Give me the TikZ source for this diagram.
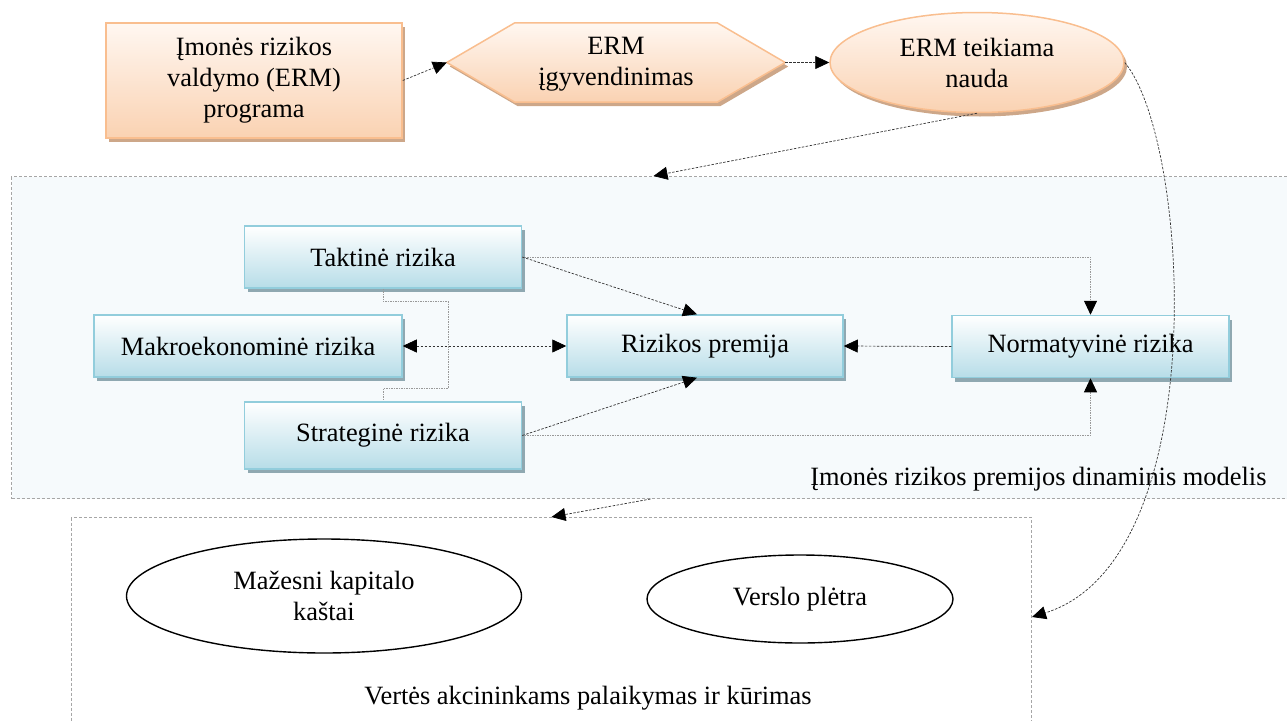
\documentclass[tikz,border=0pt]{standalone}
\usepackage{fontspec}
\setmainfont{Liberation Serif}
\usetikzlibrary{arrows.meta,shapes.geometric,shadows}
\begin{document}
\begin{tikzpicture}[x=1pt,y=-1pt,font=\fontsize{26.4}{31}\selectfont,
    ermbox/.style={draw=cl1,line width=1.5pt,top color=cl0,bottom color=cl2,
        drop shadow={shadow xshift=3pt,shadow yshift=-4pt,fill=cl3,opacity=1}},
    riskbox/.style={draw=cl4,line width=1.5pt,top color=white,bottom color=cl5,
        drop shadow={shadow xshift=3pt,shadow yshift=-4pt,fill=cl6,opacity=1},
        minimum height=62,inner sep=0},
    panelbox/.style={draw=gray!70,line width=1pt,dash pattern=on 3pt off 2pt,anchor=north west},
    tip/.style={-{Triangle[length=14pt,width=13pt,color=black]}},
    arrowlink/.style={black!80,line width=0.7pt,dash pattern=on 2.5pt off 1.5pt,tip},
    greylink/.style={gray!80,line width=0.7pt,dash pattern=on 1.5pt off 1pt},
    valueoval/.style={draw,ellipse,line width=1.4pt,align=center,inner sep=0}]
    \definecolor{cl0}{HTML}{FFF7F1}
    \definecolor{cl1}{HTML}{F9BE8F}
    \definecolor{cl2}{HTML}{FAD2B2}
    \definecolor{cl3}{HTML}{CDA789}
    \definecolor{cl4}{HTML}{92CDDC}
    \definecolor{cl5}{HTML}{B7DDE8}
    \definecolor{cl6}{HTML}{8FA8B1}
    \definecolor{cl7}{HTML}{F6FAFC}
    \useasboundingbox (0,0) rectangle (1287,720);
    \node[panelbox,fill=cl7,minimum width=1284,minimum height=322] (model) at (11,176) {};
    \node[panelbox,minimum width=960,minimum height=260] (value) at (71,517) {};
    \node[anchor=base east] (modeltitle) at (1270,485) {Įmonės rizikos premijos dinaminis modelis};
    \node[anchor=base] (valuetitle) at (588,704) {Vertės akcininkams palaikymas ir kūrimas};
    \node[ermbox,align=center,minimum width=296,minimum height=115] (prog) at (254,80.5) {Įmonės rizikos\\valdymo (ERM)\\programa};
    \node[minimum width=202,minimum height=79,inner sep=0] (impl) at (616,62.5) {};
    \path[ermbox] (impl.north west) -- (impl.north east) -- ([xshift=68pt]impl.east)
        -- (impl.south east) -- (impl.south west) -- ([xshift=-68pt]impl.west) -- cycle;
    \node[align=center] (impltext) at ([yshift=-2pt]impl) {ERM\\įgyvendinimas};
    \node[ermbox,ellipse,align=center,minimum width=294,minimum height=100] (benefit) at (977,62.5) {ERM teikiama\\nauda};
    \node[riskbox,minimum width=277] (tak) at (383,257) {Taktinė rizika};
    \node[riskbox,minimum width=308] (makro) at (248,346) {Makroekonominė rizika};
    \node[riskbox,minimum width=277,minimum height=67] (str) at (383,435.5) {Strateginė rizika};
    \node[riskbox,minimum width=276] (prem) at (705,346) {Rizikos premija};
    \node[riskbox,minimum width=277] (norm) at (1090.5,346.5) {Normatyvinė rizika};
    \node[valueoval,minimum width=395,minimum height=114] (cost) at (324,596) {Mažesni kapitalo\\kaštai};
    \node[valueoval,minimum width=306,minimum height=88] (growth) at (800,599) {Verslo plėtra};
    \draw[arrowlink] (prog.east) -- ([xshift=-68pt]impl.west);
    \draw[arrowlink] ([xshift=68pt]impl.east) -- (benefit.west);
    \draw[arrowlink] (benefit.south) -- (model.north);
    \draw[arrowlink] (benefit.east) .. controls (1190,140) and (1215,560) .. ([yshift=-100pt]value.north east);
    \draw[arrowlink] ([xshift=-3pt]model.south) -- (value.north);
    \draw[greylink] (tak.south) -- ++(0,13) -- ++(65,0) |- ([yshift=13pt]str.north) -- (str.north);
    \draw[greylink,tip] (tak.east) -| (norm.north);
    \draw[greylink,tip] (str.east) -| (norm.south);
    \draw[arrowlink] (tak.east) -- ([xshift=-8pt]prem.north);
    \draw[arrowlink] (str.east) -- ([xshift=-8pt]prem.south);
    \draw[arrowlink] (norm.west) -- (prem.east);
    \draw[arrowlink,{Triangle[length=14pt,width=13pt,color=black]}-{Triangle[length=14pt,width=13pt,color=black]}] (makro.east) -- (prem.west);
\end{tikzpicture}
\end{document}
